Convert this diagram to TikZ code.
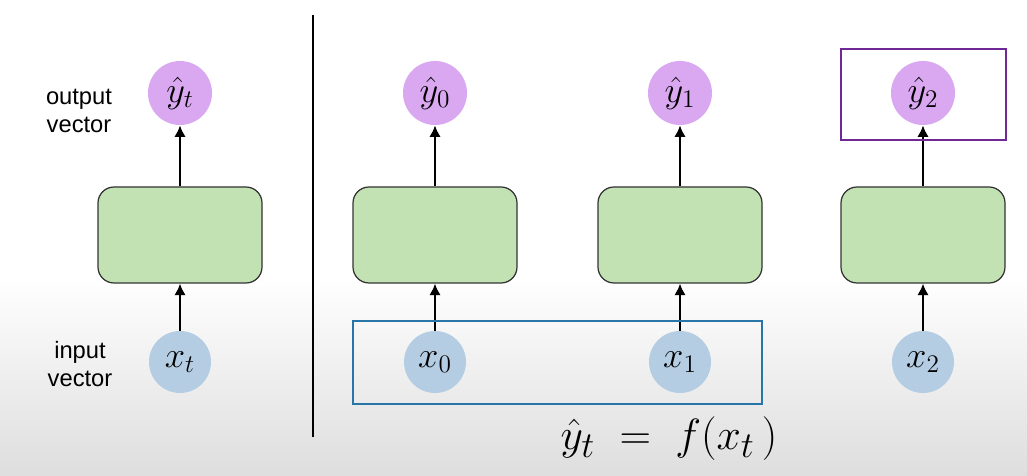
\documentclass[tikz,border=0pt]{standalone}
\usepackage{fontspec}
\setmainfont{Liberation Sans}
\usetikzlibrary{arrows.meta}
\usetikzlibrary{positioning}
\definecolor{outpurple}{RGB}{217,168,240}
\definecolor{inblue}{RGB}{180,205,226}
\definecolor{cellgreen}{RGB}{194,226,180}
\definecolor{grpblue}{RGB}{40,118,168}
\definecolor{hlpurple}{RGB}{112,40,150}

\begin{document}
\begin{tikzpicture}[
  outnode/.style={circle,fill=outpurple,minimum size=1.28cm,inner sep=0pt,font=\fontsize{22}{24}\selectfont},
  innode/.style={circle,fill=inblue,minimum size=1.24cm,inner sep=0pt,font=\fontsize{22}{24}\selectfont},
  cell/.style={rectangle,rounded corners=0.32cm,draw=black!80,line width=0.7pt,fill=cellgreen,minimum width=3.28cm,minimum height=1.92cm},
  feed/.style={-{Latex[length=6.5pt,width=6.5pt]},line width=1.6pt},
  sidelbl/.style={align=center,font=\fontsize{13.5}{15.5}\selectfont}]
\useasboundingbox (0,0) rectangle (20.54,9.52);
\fill[white] (0,0) rectangle (20.54,9.52);
\shade[top color=white,bottom color=black!13] (0,0) rectangle (20.54,4.0);

% single step
\node[outnode] (yt) at (3.6,7.66) {$\hat{y}_t$};
\node[cell] (ct) at (3.6,4.82) {};
\node[innode] (xt) at (3.6,2.28) {$x_t$};
\draw[feed] (xt) -- (ct);
\draw[feed] (ct) -- (yt);
\node[sidelbl] (outlbl) at (1.58,7.3) {output\\vector};
\node[sidelbl] (inlbl) at (1.6,2.24) {input\\vector};

\draw[line width=1.4pt] (6.26,0.78) -- (6.26,9.22);

% unrolled steps
\node[outnode] (y0) at (8.7,7.66) {$\hat{y}_0$};
\node[cell] (c0) at (8.7,4.82) {};
\node[innode] (x0) at (8.7,2.28) {$x_0$};
\draw[feed] (x0) -- (c0);
\draw[feed] (c0) -- (y0);

\node[outnode] (y1) at (13.6,7.66) {$\hat{y}_1$};
\node[cell] (c1) at (13.6,4.82) {};
\node[innode] (x1) at (13.6,2.28) {$x_1$};
\draw[feed] (x1) -- (c1);
\draw[feed] (c1) -- (y1);

\node[outnode] (y2) at (18.46,7.66) {$\hat{y}_2$};
\node[cell] (c2) at (18.46,4.82) {};
\node[innode] (x2) at (18.46,2.28) {$x_2$};
\draw[feed] (x2) -- (c2);
\draw[feed] (c2) -- (y2);

\draw[grpblue,line width=1.2pt] (7.06,1.44) rectangle (15.24,3.1);
\draw[hlpurple,line width=1.2pt] (16.82,6.72) rectangle (20.12,8.54);

\node[font=\fontsize{29}{32}\selectfont] (eq) at (13.38,0.74) {$\hat{y}_t \;=\; f(x_t\,)$};
\end{tikzpicture}
\end{document}
